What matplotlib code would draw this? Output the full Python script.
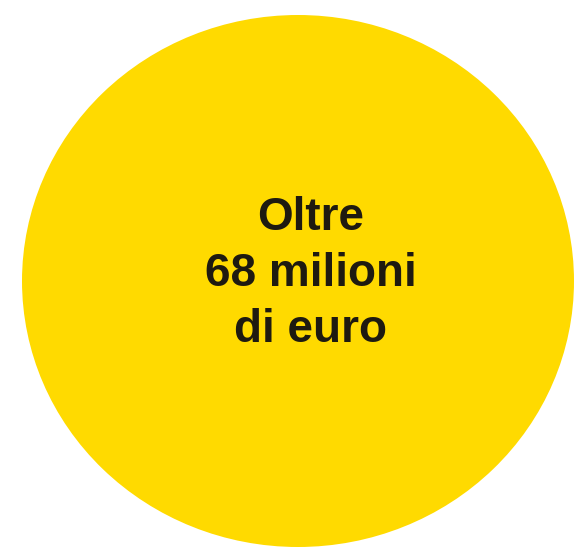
import matplotlib
matplotlib.use("Agg")
import matplotlib.pyplot as plt
from matplotlib.patches import Ellipse

label_lines = ["Oltre", "68 milioni", "di euro"]
circle_color = "#FFDA00"
text_color = "#1E1A10"

fig = plt.figure(figsize=(5.77, 5.48), dpi=100)
ax = fig.add_axes([0, 0, 1, 1])
ax.set_xlim(0, 577)
ax.set_ylim(548, 0)
ax.axis("off")

ax.add_patch(Ellipse((298, 281), 552, 532, facecolor=circle_color, edgecolor="none"))

ys = [218, 274, 330]
for txt, y in zip(label_lines, ys):
    ax.text(311, y, txt, ha="center", va="center", fontsize=33, fontweight="bold",
            family=["Liberation Sans", "DejaVu Sans"], color=text_color)

fig.savefig("out.png", dpi=100)
